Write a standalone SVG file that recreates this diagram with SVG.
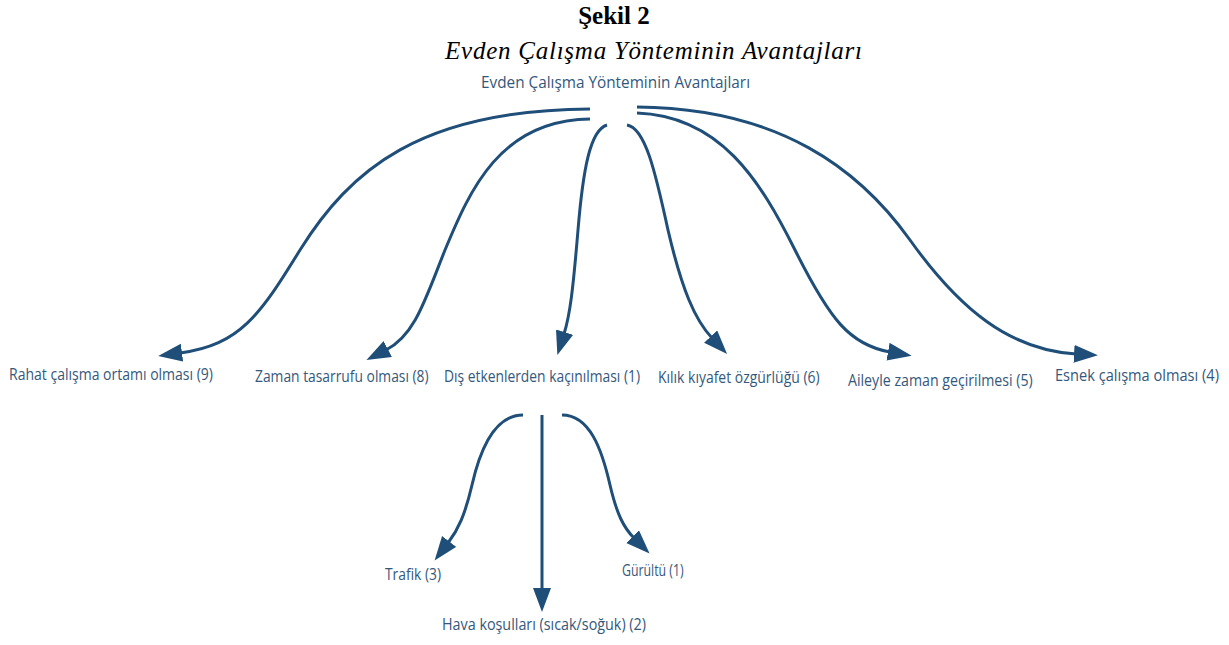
<svg xmlns="http://www.w3.org/2000/svg" width="1229" height="645" viewBox="0 0 1229 645">
  <style>
    .title { font-family: "Liberation Serif", "Times New Roman", serif; fill: #000; }
    .lbl { font-family: "Open Sans", "Noto Sans", "DejaVu Sans", sans-serif; font-size: 17px; fill: #34577b; }
    .root { font-size: 15.5px; }
    .edge { fill: none; stroke: #1f4e79; stroke-width: 3; marker-end: url(#arrow); }
  </style>
  <defs>
    <marker id="arrow" markerUnits="userSpaceOnUse" markerWidth="26" markerHeight="20" refX="2" refY="9" orient="auto">
      <path d="M0,0 L24,9 L0,18 z" fill="#1f4e79"/>
    </marker>
  </defs>
  <rect width="1229" height="645" fill="#ffffff"/>

  <!-- figure caption -->
  <text class="title" x="614" y="24" font-size="25" font-weight="bold" text-anchor="middle">Şekil 2</text>
  <text class="title" x="445" y="59" font-size="25" font-style="italic" textLength="417" lengthAdjust="spacing">Evden Çalışma Yönteminin Avantajları</text>

  <!-- connectors -->
  <g id="connectors">
    <path class="edge" d="M590,109 C420,110 350,170 300,250 C260,315 240,345 180,353"/>
    <path class="edge" d="M590,119 C500,120 470,190 445,250 C425,300 415,335 386,350"/>
    <path class="edge" d="M607,125 C590,130 583,170 578,230 C573,290 570,315 564,334"/>
    <path class="edge" d="M627,125 C645,128 655,170 668,230 C682,290 695,320 712,338"/>
    <path class="edge" d="M637,113 C720,116 760,180 795,250 C830,320 850,345 890,352"/>
    <path class="edge" d="M637,107 C780,108 860,170 910,240 C960,310 1010,350 1076,354"/>
    <path class="edge" d="M523,415 C495,415 480,450 472,485 C465,515 458,530 448,543"/>
    <path class="edge" d="M542,415 L542,590"/>
    <path class="edge" d="M562,415 C590,415 602,450 610,485 C617,515 624,528 634,538"/>
  </g>

  <!-- nodes: labels set in a narrowed face (horizontal scale 0.8) -->
  <g id="root"><text class="lbl root" x="481" y="88" textLength="269" lengthAdjust="spacingAndGlyphs">Evden Çalışma Yönteminin Avantajları</text></g>
  <g id="rahat"><text class="lbl" transform="translate(9,380) scale(0.8,1)" textLength="255" lengthAdjust="spacingAndGlyphs">Rahat çalışma ortamı olması (9)</text></g>
  <g id="zaman"><text class="lbl" transform="translate(255,382) scale(0.8,1)" textLength="217" lengthAdjust="spacingAndGlyphs">Zaman tasarrufu olması (8)</text></g>
  <g id="dis"><text class="lbl" transform="translate(444,382) scale(0.8,1)" textLength="245" lengthAdjust="spacingAndGlyphs">Dış etkenlerden kaçınılması (1)</text></g>
  <g id="kilik"><text class="lbl" transform="translate(658,383) scale(0.8,1)" textLength="202" lengthAdjust="spacingAndGlyphs">Kılık kıyafet özgürlüğü (6)</text></g>
  <g id="aile"><text class="lbl" transform="translate(848,386) scale(0.8,1)" textLength="231" lengthAdjust="spacingAndGlyphs">Aileyle zaman geçirilmesi (5)</text></g>
  <g id="esnek"><text class="lbl" transform="translate(1055,381) scale(0.8,1)" textLength="205" lengthAdjust="spacingAndGlyphs">Esnek çalışma olması (4)</text></g>
  <g id="trafik"><text class="lbl" transform="translate(385,580) scale(0.8,1)" textLength="70" lengthAdjust="spacingAndGlyphs">Trafik (3)</text></g>
  <g id="hava"><text class="lbl" transform="translate(442,630) scale(0.8,1)" textLength="255" lengthAdjust="spacingAndGlyphs">Hava koşulları (sıcak/soğuk) (2)</text></g>
  <g id="gurultu"><text class="lbl" transform="translate(622,576) scale(0.8,1)" textLength="77" lengthAdjust="spacingAndGlyphs">Gürültü (1)</text></g>
</svg>
